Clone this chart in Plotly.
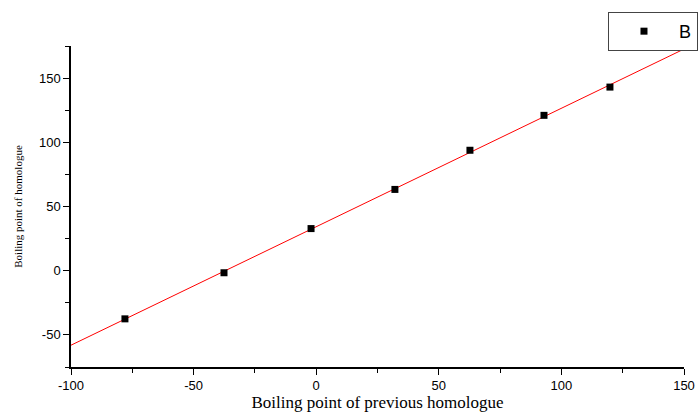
import numpy as np
import plotly.graph_objects as go

prev_bp = [-78.0, -37.6, -2.1, 32.1, 62.7, 92.9, 119.8]
homologue_bp = [-37.5, -1.6, 32.8, 63.3, 93.8, 121.0, 143.0]
x_ticks = [-100, -50, 0, 50, 100, 150]
y_ticks = [-50, 0, 50, 100, 150]

slope, intercept = np.polyfit(prev_bp, homologue_bp, 1)
fit_x = np.array([-100, 150])
fit_y = slope * fit_x + intercept

fig = go.Figure()
fig.add_trace(go.Scatter(x=fit_x, y=fit_y, mode="lines",
                         line=dict(color="red", width=1), showlegend=False))
fig.add_trace(go.Scatter(x=prev_bp, y=homologue_bp, mode="markers", name="B",
                         marker=dict(symbol="square", size=7, color="black")))

axis_common = dict(showline=True, linecolor="black", linewidth=1.5, showgrid=False,
                   zeroline=False, ticks="outside", ticklen=6, tickwidth=1,
                   tickcolor="black", mirror=False,
                   tickfont=dict(family="Liberation Sans, Arial", size=13, color="black"),
                   minor=dict(ticks="outside", ticklen=4, dtick=25, tickcolor="black", showgrid=False))

fig.update_xaxes(range=[-100, 150], tickvals=x_ticks, ticktext=[str(v) for v in x_ticks], **axis_common,
                 title=dict(text="Boiling point of previous homologue",
                            font=dict(family="Liberation Serif, Times New Roman", size=17, color="black"),
                            standoff=2))
fig.update_yaxes(range=[-75, 175], tickvals=y_ticks, ticktext=[str(v) for v in y_ticks], **axis_common,
                 title=dict(text="Boiling point of homologue",
                            font=dict(family="Liberation Serif, Times New Roman", size=11, color="black"),
                            standoff=14))

fig.update_layout(width=698, height=418, margin=dict(l=71, r=14, t=46, b=51, autoexpand=False),
                  plot_bgcolor="white", paper_bgcolor="white",
                  legend=dict(x=0.876, y=1.106, xanchor="left", yanchor="top",
                              bordercolor="#444", borderwidth=1, bgcolor="white",
                              font=dict(family="Liberation Sans, Arial", size=18, color="black"),
                              itemwidth=60, tracegroupgap=0))
fig.write_html("out.html")
